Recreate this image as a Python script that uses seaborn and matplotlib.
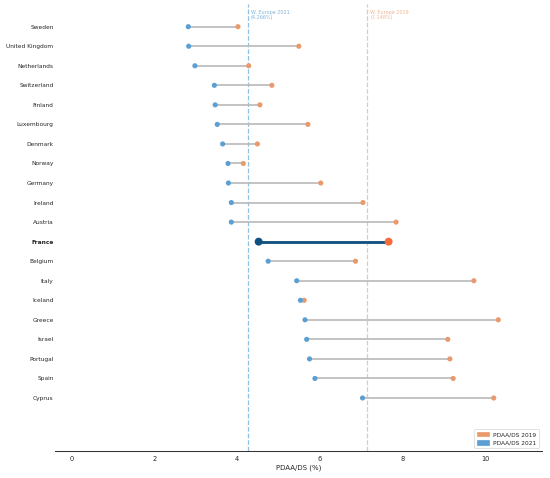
import pandas as pd
import matplotlib
matplotlib.use("Agg")
import matplotlib.pyplot as plt
from matplotlib.patches import Patch
import seaborn as sns

# Data
countries = ["Sweden", "United Kingdom", "Netherlands", "Switzerland", "Finland",
             "Luxembourg", "Denmark", "Norway", "Germany", "Ireland", "Austria",
             "France", "Belgium", "Italy", "Iceland", "Greece", "Israel",
             "Portugal", "Spain", "Cyprus"]
pdaa_2021 = [2.82, 2.83, 2.98, 3.45, 3.47, 3.52, 3.65, 3.78, 3.79, 3.86, 3.86,
             4.52, 4.75, 5.44, 5.53, 5.64, 5.68, 5.75, 5.88, 7.03]
pdaa_2019 = [4.02, 5.49, 4.28, 4.84, 4.55, 5.71, 4.49, 4.15, 6.02, 7.04, 7.84,
             7.66, 6.86, 9.72, 5.62, 10.31, 9.09, 9.14, 9.22, 10.20]
we_2021 = 4.266
we_2019 = 7.148
highlight = "France"

BLUE = "#5b9fd3"
ORANGE = "#e99a6c"
DARK_BLUE = "#0f5080"
RED_ORANGE = "#f76b3a"


def main():
    df = pd.DataFrame({"country": countries, "y2021": pdaa_2021, "y2019": pdaa_2019})
    others = df[df["country"] != highlight]
    hl = df[df["country"] == highlight]

    sns.set_style("white")
    fig, ax = plt.subplots(figsize=(11, 9.56), dpi=50)

    # connector lines
    ax.hlines(df["country"], df["y2021"], df["y2019"], color="#bbbbbb", lw=2.5, zorder=1)
    ax.hlines(hl["country"], hl["y2021"], hl["y2019"], color=DARK_BLUE, lw=4, zorder=2)

    # dots
    sns.scatterplot(data=others, x="y2019", y="country", color=ORANGE, s=55,
                    edgecolor="none", ax=ax, zorder=3)
    sns.scatterplot(data=others, x="y2021", y="country", color=BLUE, s=55,
                    edgecolor="none", ax=ax, zorder=3)
    sns.scatterplot(data=hl, x="y2019", y="country", color=RED_ORANGE, s=130,
                    edgecolor="none", ax=ax, zorder=4)
    sns.scatterplot(data=hl, x="y2021", y="country", color=DARK_BLUE, s=130,
                    edgecolor="none", ax=ax, zorder=4)

    # Western Europe reference lines
    ax.axvline(we_2021, color="#8fc1e3", ls="--", lw=1.8, zorder=0)
    ax.axvline(we_2019, color="#f3c3a6", ls="--", lw=1.8, zorder=0)
    ax.text(we_2021 + 0.07, -0.85, f"W. Europe 2021\n({we_2021:.3f}%)", color="#7fb3da",
            fontsize=7, va="top", ha="left", linespacing=1.0)
    ax.text(we_2019 + 0.07, -0.85, f"W. Europe 2019\n({we_2019:.3f}%)", color="#f0b592",
            fontsize=7, va="top", ha="left", linespacing=1.0)

    ax.set_xlim(-0.4, 11.36)
    ax.set_ylim(21.7, -1.17)
    ax.set_xticks([0, 2, 4, 6, 8, 10])
    ax.set_xlabel("PDAA/DS (%)", fontsize=10)
    ax.set_ylabel("")
    ax.tick_params(axis="x", labelsize=9.5, length=4, width=1, color="#444444")
    ax.tick_params(axis="y", labelsize=8.5, length=0, pad=2)
    for lab in ax.get_yticklabels():
        if lab.get_text() == highlight:
            lab.set_fontweight("bold")

    sns.despine(ax=ax, left=True)
    ax.spines["bottom"].set_linewidth(1.5)
    ax.spines["bottom"].set_color("#333333")

    handles = [Patch(color=ORANGE, label="PDAA/DS 2019"),
               Patch(color=BLUE, label="PDAA/DS 2021")]
    ax.legend(handles=handles, loc="lower right", fontsize=8.5, frameon=True,
              handlelength=2.0, handleheight=0.9, borderpad=0.4)

    fig.subplots_adjust(left=0.1, right=0.985, top=0.992, bottom=0.057)
    fig.savefig("out.png")


if __name__ == "__main__":
    main()
